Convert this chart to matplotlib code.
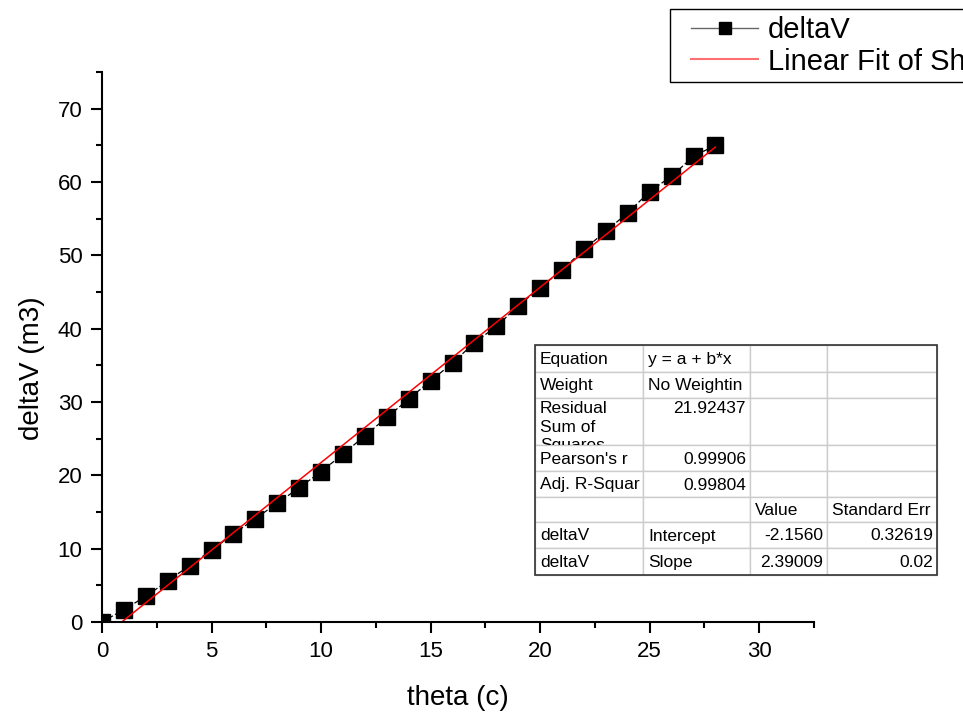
import matplotlib
matplotlib.use("Agg")
import matplotlib.pyplot as plt
from matplotlib.patches import Rectangle
import numpy as np

plt.rcParams["font.family"] = ["Liberation Sans", "DejaVu Sans"]

# measured data
theta = [0, 1, 2, 3, 4, 5, 6, 7, 8, 9, 10, 11, 12, 13, 14,
         15, 16, 17, 18, 19, 20, 21, 22, 23, 24, 25, 26, 27, 28]
delta_v = [0.0, 1.7, 3.5, 5.6, 7.7, 9.8, 12.0, 14.1, 16.2, 18.3, 20.5, 22.9, 25.4, 27.9, 30.4,
           32.9, 35.3, 38.1, 40.3, 43.1, 45.6, 48.0, 50.8, 53.3, 55.8, 58.7, 60.8, 63.5, 65.0]

# linear fit parameters (as reported)
intercept = -2.1560
slope = 2.39009

# fit report table
table_rows = [
    ["Equation", "y = a + b*x", "", ""],
    ["Weight", "No Weightin", "", ""],
    ["Residual\nSum of\nSquares", "21.92437", "", ""],
    ["Pearson's r", "0.99906", "", ""],
    ["Adj. R-Squar", "0.99804", "", ""],
    ["", "", "Value", "Standard Err"],
    ["deltaV", "Intercept", "-2.1560", "0.32619"],
    ["deltaV", "Slope", "2.39009", "0.02"],
]
right_aligned = {"21.92437", "0.99906", "0.99804", "-2.1560", "0.32619", "2.39009", "0.02"}

W, H = 963, 715
fig = plt.figure(figsize=(W / 100, H / 100), dpi=100)
ax = fig.add_axes([102 / W, (H - 622) / H, (814 - 102) / W, (622 - 72) / H])

ax.plot(theta, delta_v, color="black", linestyle=(0, (4, 2)), linewidth=0.9,
        marker="s", markersize=11, markerfacecolor="black", markeredgecolor="black",
        label="deltaV")
fit_x = np.array([theta[0], theta[-1]])
ax.plot(fit_x, intercept + slope * fit_x, color="red", linewidth=1.1,
        label="Linear Fit of Sheet1_deltaV")

ax.set_xlim(0, 32.5)
ax.set_ylim(0, 75)
ax.set_xticks(range(0, 31, 5))
ax.set_xticks(np.arange(0, 32.6, 2.5), minor=True)
ax.set_yticks(range(0, 71, 10))
ax.set_yticks(range(0, 76, 5), minor=True)
for side in ["top", "right"]:
    ax.spines[side].set_visible(False)
for side in ["left", "bottom"]:
    ax.spines[side].set_linewidth(1.5)
ax.tick_params(which="major", direction="out", length=8, width=1.5, labelsize=16, pad=6)
ax.tick_params(which="minor", direction="out", length=4.5, width=1.5)
ax.set_xlabel("theta (c)", fontsize=20, labelpad=16)
ax.set_ylabel("deltaV (m3)", fontsize=20, labelpad=9, y=0.462)

# legend, partly running off the right edge as in the original
fig.add_artist(Rectangle((670 / W, 1 - 82 / H), 400 / W, 73 / H,
                         transform=fig.transFigure, facecolor="white",
                         edgecolor="black", linewidth=1.0, zorder=3))
leg = fig.legend(handles=ax.get_lines(), loc="upper left",
                 bbox_to_anchor=(691 / W, 1 - 16 / H), fontsize=21,
                 frameon=False, handlelength=2.3, borderpad=0,
                 labelspacing=0.12, handletextpad=0.34, borderaxespad=0)
leg.set_zorder(4)
h0, h1 = leg.legend_handles
h0.set_linestyle("-")
h0.set_linewidth(1.0)
h0.set_color("#666666")
h0.set_markerfacecolor("black")
h0.set_markeredgecolor("black")
h0.set_markersize(9)
h1.set_color("#ff7070")
h1.set_linewidth(1.5)

# fit report table drawn in pixel coordinates
col_edges = [535, 643, 750, 827, 937]
row_edges = [345, 372, 398, 445, 471, 497, 522, 548, 575]


def fx(px):
    return px / W


def fy(py):
    return 1 - py / H


for r, row in enumerate(table_rows):
    y0, y1 = row_edges[r], row_edges[r + 1]
    for c, txt in enumerate(row):
        x0, x1 = col_edges[c], col_edges[c + 1]
        cell = Rectangle((fx(x0), fy(y1)), fx(x1) - fx(x0), fy(y0) - fy(y1),
                         transform=fig.transFigure, facecolor="white",
                         edgecolor="#cccccc", linewidth=1.0, zorder=5)
        fig.add_artist(cell)
        if not txt:
            continue
        if r == 2:
            ty, va = fy(y0 + 3), "top"
        else:
            ty, va = fy((y0 + y1) / 2 + 1), "center"
        if txt in right_aligned:
            t = fig.text(fx(x1 - 4), ty, txt, ha="right", va=va,
                         fontsize=12.5, zorder=6, linespacing=1.3)
        else:
            t = fig.text(fx(x0 + 5), ty, txt, ha="left", va=va,
                         fontsize=12.5, zorder=6, linespacing=1.3)
        t.set_clip_path(cell)

outer = Rectangle((fx(col_edges[0]), fy(row_edges[-1])),
                  fx(col_edges[-1]) - fx(col_edges[0]),
                  fy(row_edges[0]) - fy(row_edges[-1]),
                  transform=fig.transFigure, facecolor="none",
                  edgecolor="#333333", linewidth=1.2, zorder=7)
fig.add_artist(outer)

fig.savefig("out.png", dpi=100)
plt.close(fig)
